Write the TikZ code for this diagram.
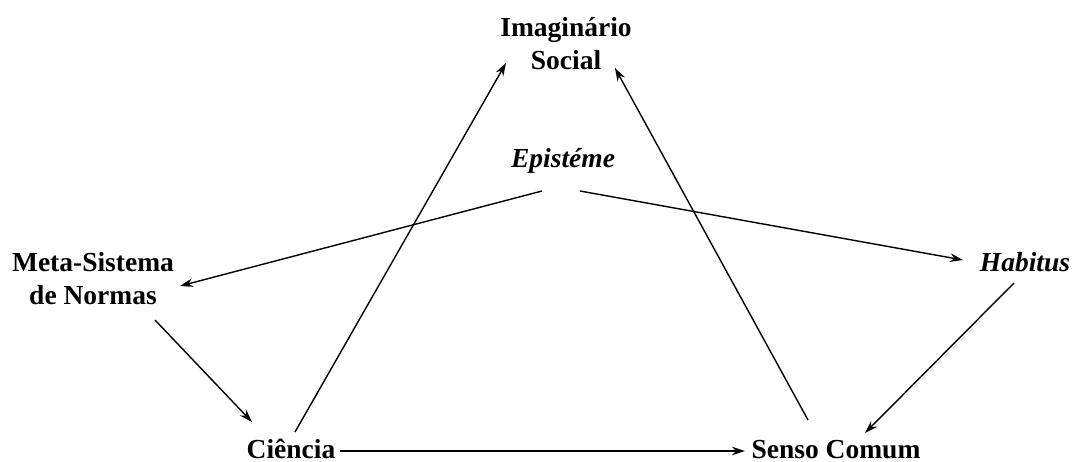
\documentclass[tikz,border=0pt]{standalone}
\usepackage{fontspec}
\setmainfont{Liberation Serif}
\usetikzlibrary{calc,arrows.meta}
\begin{document}
\begin{tikzpicture}[x=1bp,y=-1bp,
  lbl/.style={font=\fontsize{27.5bp}{33bp}\selectfont\bfseries, inner sep=0pt, anchor=base, align=center},
  arr/.style={-{Stealth[length=13bp,width=8.5bp]}, line width=1.4bp}]
\useasboundingbox[fill=white] (0,0) rectangle (1078,462);
\node[lbl] (img) at (566,70) {Imaginário\\Social};
\node[lbl] (meta) at (93,305) {Meta-Sistema\\de Normas};
\node[lbl] (epi) at (563,168) {\itshape Epistéme};
\node[lbl] (hab) at (1025,272) {\itshape Habitus};
\node[lbl] (cie) at (291,458) {Ciência};
\node[lbl] (sen) at (836,458) {Senso Comum};
\draw[arr] ($(epi.base)+(-21,23)$) -- ($(meta.base)+(87,-19)$);
\draw[arr] ($(epi.base)+(17,23)$) -- ($(hab.base)+(-62,-12)$);
\draw[arr] ($(meta.base)+(62,15)$) -- ($(cie.base)+(-39,-36)$);
\draw[arr] ($(cie.base)+(4,-26)$) -- ($(img.base)+(-60,-7)$);
\draw[arr] ($(sen.base)+(-28,-38)$) -- ($(img.base)+(49,-2)$);
\draw[arr] ($(hab.base)+(-11,11)$) -- ($(sen.base)+(29,-25)$);
\draw[arr] ($(cie.base)+(49,-7)$) -- ($(sen.base)+(-91,-7)$);
\end{tikzpicture}
\end{document}
